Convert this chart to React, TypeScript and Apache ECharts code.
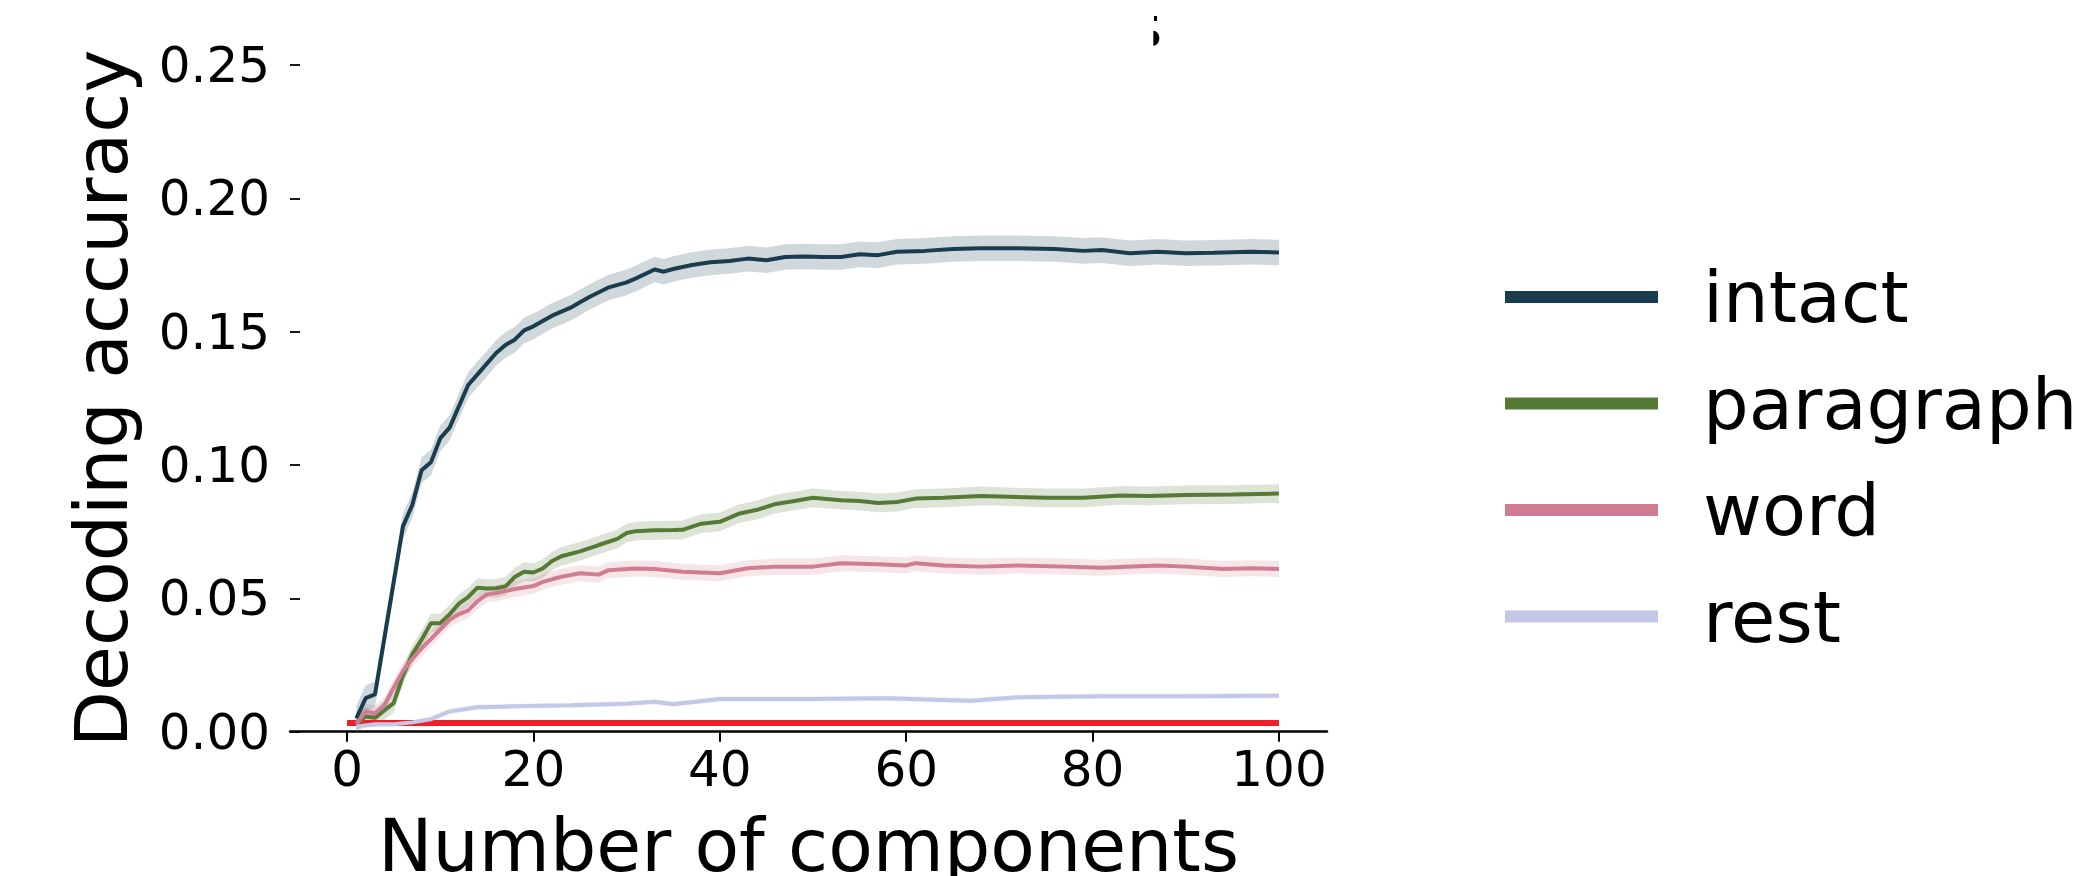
import { useEffect, useRef } from "react";
import * as echarts from "echarts";

// ---- data ----
const xTicks = [0, 20, 40, 60, 80, 100];

const intactX = [1, 2, 3, 4, 5, 6, 7, 8, 9, 10, 11, 12, 13, 14, 15, 16, 17, 18, 19, 20, 21, 22, 24, 25, 26, 28, 30, 31, 33, 34, 35, 37, 39, 41, 43, 45, 47, 49, 51, 53, 55, 57, 59, 62, 65, 68, 72, 76, 79, 81, 84, 87, 90, 93, 97, 100];
const intactY = [0.005, 0.0126, 0.014, 0.035, 0.056, 0.077, 0.085, 0.098, 0.101, 0.11, 0.114, 0.122, 0.13, 0.134, 0.138, 0.142, 0.145, 0.147, 0.1505, 0.152, 0.154, 0.156, 0.159, 0.161, 0.163, 0.1665, 0.1685, 0.17, 0.1733, 0.1725, 0.1735, 0.175, 0.176, 0.1765, 0.1774, 0.1768, 0.178, 0.1782, 0.178, 0.178, 0.179, 0.1787, 0.18, 0.1803, 0.181, 0.1813, 0.1813, 0.181, 0.1803, 0.1806, 0.1794, 0.18, 0.1794, 0.1796, 0.18, 0.1797];

const paragraphX = [1, 2, 3, 4, 5, 6, 7, 8, 9, 10, 11, 12, 13, 14, 15, 16, 17, 18, 19, 20, 21, 22, 23, 25, 27, 29, 30, 31, 33, 35, 36, 38, 40, 42, 44, 46, 48, 50, 53, 55, 57, 59, 61, 64, 68, 71, 75, 79, 83, 86, 90, 95, 100];
const paragraphY = [0.003, 0.0057, 0.0052, 0.008, 0.0107, 0.021, 0.029, 0.0345, 0.0407, 0.0407, 0.044, 0.048, 0.0505, 0.054, 0.0537, 0.0538, 0.0545, 0.058, 0.06, 0.0597, 0.0612, 0.064, 0.0658, 0.0676, 0.07, 0.0723, 0.0745, 0.0752, 0.0755, 0.0756, 0.0757, 0.078, 0.0787, 0.0817, 0.0832, 0.0854, 0.0865, 0.0877, 0.0868, 0.0865, 0.0858, 0.0861, 0.0874, 0.0877, 0.0884, 0.0881, 0.0877, 0.0877, 0.0886, 0.0884, 0.0888, 0.0889, 0.0893];

const wordX = [1, 2, 3, 4, 5, 6, 7, 8, 9, 10, 11, 12, 13, 14, 15, 16, 17, 18, 20, 21, 23, 25, 27, 28, 31, 33, 36, 40, 43, 46, 50, 53, 57, 60, 61, 64, 68, 72, 77, 81, 87, 90, 94, 97, 100];
const wordY = [0.003, 0.0076, 0.0068, 0.0099, 0.0165, 0.0228, 0.0273, 0.0313, 0.0347, 0.0384, 0.042, 0.044, 0.0455, 0.049, 0.0515, 0.052, 0.0528, 0.0535, 0.0546, 0.0562, 0.0581, 0.0594, 0.0589, 0.0605, 0.0612, 0.061, 0.06, 0.0594, 0.0613, 0.0619, 0.0619, 0.0632, 0.0628, 0.0623, 0.0632, 0.0623, 0.0619, 0.0623, 0.0619, 0.0615, 0.0623, 0.0619, 0.061, 0.0613, 0.061];

const restX = [1, 3, 5, 7, 9, 11, 14, 18, 24, 30, 33, 35, 40, 50, 58, 63, 67, 72, 81, 90, 100];
const restY = [0.002, 0.0028, 0.0028, 0.0035, 0.0047, 0.0076, 0.0092, 0.0095, 0.0099, 0.0105, 0.0112, 0.0103, 0.0123, 0.0123, 0.0125, 0.012, 0.0116, 0.0129, 0.0133, 0.0133, 0.0135];

// half-width of the shaded error bands
const intactSem = 0.0048;
const paragraphSem = 0.0035;
const wordSem = 0.003;
const restSem = 0.001;

const chanceX = [0, 100];
const chanceLevel = 0.0033;

const names = ["intact", "paragraph", "word", "rest"];
const colors = ["#193d4f", "#547a36", "#d07c93", "#c3c8e6"];
const bandColors = ["rgba(25,61,79,0.2)", "rgba(84,122,54,0.2)", "rgba(208,124,147,0.2)", "rgba(195,200,230,0.25)"];

const FONT = "DejaVu Sans";

function bandSeries(name: string, xs: number[], ys: number[], sem: number, fill: string) {
  const data = xs.map((x, i) => [x, ys[i] - sem, ys[i] + sem]);
  return {
    type: "custom",
    name: name + " band",
    silent: true,
    z: 1,
    encode: { x: 0, y: [1, 2] },
    data,
    renderItem: (params: any, api: any) => {
      if (params.dataIndex !== 0) return null;
      const pts: number[][] = [];
      for (let i = 0; i < data.length; i++) pts.push(api.coord([data[i][0], data[i][2]]));
      for (let i = data.length - 1; i >= 0; i--) pts.push(api.coord([data[i][0], data[i][1]]));
      return { type: "polygon", shape: { points: pts }, style: { fill } };
    },
  };
}

function lineSeries(name: string, xs: number[], ys: number[], color: string) {
  return {
    type: "line",
    name,
    color,
    z: 3,
    symbol: "none",
    silent: true,
    data: xs.map((x, i) => [x, ys[i]]),
    lineStyle: { color, width: 4 },
    itemStyle: { color },
  };
}

export default function App() {
  const ref = useRef<HTMLDivElement>(null);
  useEffect(() => {
    if (!ref.current) return;
    const chart = echarts.init(ref.current, null, { renderer: "svg" });
    const sets = [
      [intactX, intactY, intactSem],
      [paragraphX, paragraphY, paragraphSem],
      [wordX, wordY, wordSem],
      [restX, restY, restSem],
    ] as [number[], number[], number][];

    const series: any[] = [];
    sets.forEach(([xs, ys, sem], i) => series.push(bandSeries(names[i], xs, ys, sem, bandColors[i])));
    series.push({
      type: "line",
      name: "chance",
      z: 2,
      symbol: "none",
      silent: true,
      data: chanceX.map((x) => [x, chanceLevel]),
      lineStyle: { color: "#ee1f26", width: 6 },
      itemStyle: { color: "#ee1f26" },
    });
    sets.forEach(([xs, ys], i) => series.push(lineSeries(names[i], xs, ys, colors[i])));

    // clipped title remnant at the top
    const half: number[][] = [];
    for (let k = 0; k <= 12; k++) {
      const a = -Math.PI / 2 + (Math.PI * k) / 12;
      half.push([1153.3 + 6 * Math.cos(a), 38.2 + 7.5 * Math.sin(a)]);
    }

    chart.setOption({
      animation: false,
      backgroundColor: "#ffffff",
      textStyle: { fontFamily: FONT },
      grid: { left: 290, top: 65, width: 1037, height: 666.7, containLabel: false, outerBoundsMode: "none" },
      xAxis: {
        type: "value",
        min: -6.12,
        max: 105.15,
        name: "Number of components",
        nameLocation: "middle",
        nameGap: 77,
        nameTextStyle: { fontSize: 73, color: "#000", fontFamily: FONT },
        axisLine: { show: true, onZero: false, lineStyle: { color: "#000", width: 2.5 } },
        axisTick: { show: true, length: 10, lineStyle: { color: "#000", width: 2 }, customValues: xTicks },
        axisLabel: { fontSize: 50, color: "#000", margin: 12, fontFamily: FONT, customValues: xTicks },
        splitLine: { show: false },
      },
      yAxis: {
        type: "value",
        min: 0,
        max: 0.25,
        interval: 0.05,
        name: "Decoding accuracy",
        nameLocation: "middle",
        nameRotate: 90,
        nameGap: 152,
        nameTextStyle: { fontSize: 73, color: "#000", fontFamily: FONT },
        axisLine: { show: false, onZero: false },
        axisTick: { show: true, inside: true, length: 10, lineStyle: { color: "#000", width: 1.8 } },
        axisLabel: { fontSize: 50, color: "#000", margin: 20, fontFamily: FONT, formatter: (v: number) => v.toFixed(2) },
        splitLine: { show: false },
      },
      legend: {
        data: names,
        orient: "vertical",
        left: 1500,
        top: 252,
        icon: "rect",
        itemWidth: 153,
        itemHeight: 12,
        itemGap: 26.5,
        selectedMode: false,
        textStyle: { fontSize: 72, lineHeight: 80, color: "#000", fontFamily: FONT, padding: [0, 0, 0, 40] },
      },
      graphic: [
        { type: "polygon", shape: { points: half }, style: { fill: "#000" }, silent: true },
        { type: "rect", shape: { x: 1154, y: 16, width: 3, height: 5 }, style: { fill: "#000" }, silent: true },
      ],
      series,
    });
    return () => chart.dispose();
  }, []);
  return <div ref={ref} style={{ position: "fixed", left: 0, top: 0, width: 2085, height: 876 }} />;
}
